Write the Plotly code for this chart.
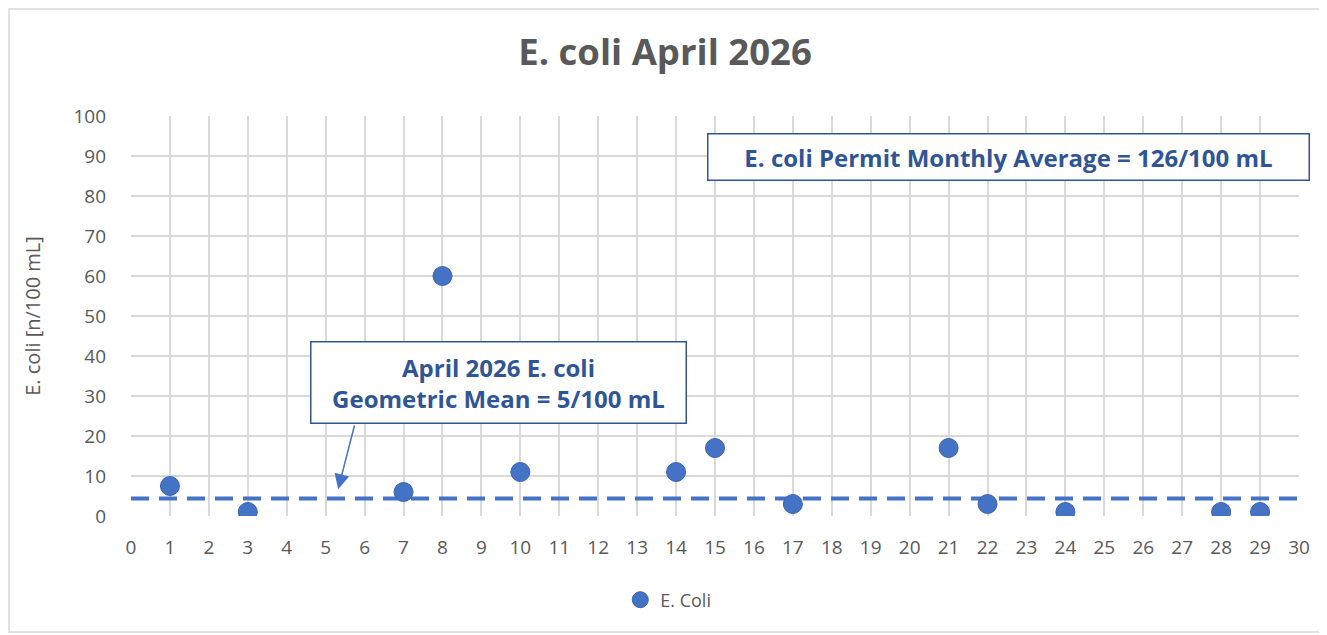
import plotly.graph_objects as go

# April 2026 sample days and E. coli counts [n/100 mL]
days = [1, 3, 7, 8, 10, 14, 15, 17, 21, 22, 24, 28, 29]
ecoli = [7.5, 1, 6, 60, 11, 11, 17, 3, 17, 3, 1, 1, 1]

geo_mean = 4.4
mean_span = [0, 30]

x_ticks = list(range(0, 31))
y_ticks = list(range(0, 101, 10))

blue = "#4472C4"
dark_blue = "#2F5597"
grey_text = "#595959"
grid = "#D9D9D9"
font = "Open Sans"

fig = go.Figure()

# geometric mean reference line
fig.add_trace(go.Scatter(
    x=mean_span, y=[geo_mean, geo_mean], mode="lines",
    line=dict(color=blue, width=4, dash="18px,10px"),
    showlegend=False, hoverinfo="skip"))

fig.add_trace(go.Scatter(
    x=days, y=ecoli, mode="markers", name="E. Coli",
    marker=dict(color=blue, size=19,
                line=dict(color="#3A63AE", width=1))))

# the page body shifts the figure by 8px, margins take that into account
fig.update_layout(
    width=1327, height=635,
    paper_bgcolor="white", plot_bgcolor="white",
    margin=dict(l=123, r=36, t=108, b=127),
    font=dict(family=font, color=grey_text, size=19),
    title=dict(text="<b>E. coli April 2026</b>", x=(665 - 8) / 1327,
               xanchor="center", y=1 - 44 / 635, yanchor="middle",
               font=dict(size=36.5, color=grey_text, family=font)),
    showlegend=True,
    legend=dict(orientation="h", x=0.46, xanchor="center", y=-0.21,
                yanchor="middle", font=dict(size=18, color=grey_text),
                itemwidth=30),
)

fig.update_xaxes(range=[0, 30], tickvals=x_ticks, showgrid=True,
                 gridcolor=grid, gridwidth=1.5, zeroline=False,
                 showline=False, ticks="", ticklabelstandoff=18,
                 tickfont=dict(size=19, color=grey_text))
fig.update_yaxes(range=[0, 100], tickvals=y_ticks, showgrid=True,
                 gridcolor=grid, gridwidth=1.5, zeroline=False,
                 showline=False, ticks="", ticklabelstandoff=24,
                 title=dict(text="E. coli [n/100 mL]", standoff=27,
                            font=dict(size=20, color=grey_text)),
                 tickfont=dict(size=19, color=grey_text))

# box callouts
fig.add_annotation(
    x=9.45, y=33.5, xref="x", yref="y", showarrow=False,
    text="<b>April 2026 E. coli<br>Geometric Mean = 5/100 mL</b>",
    font=dict(size=24, color=dark_blue, family=font),
    bordercolor=dark_blue, borderwidth=1.5, borderpad=8,
    bgcolor="white", width=358, align="center")

fig.add_annotation(
    x=5.32, y=6.7, ax=5.75, ay=23, xref="x", yref="y", axref="x", ayref="y",
    text="", showarrow=True, arrowhead=2, arrowsize=2, arrowwidth=1.5,
    arrowcolor=blue)

fig.add_annotation(
    x=22.55, y=89.75, xref="x", yref="y", showarrow=False,
    text="<b>E. coli Permit Monthly Average = 126/100 mL</b>",
    font=dict(size=24, color=dark_blue, family=font),
    bordercolor=dark_blue, borderwidth=1.5, borderpad=6,
    bgcolor="white", width=588, align="center")

# chart area border
fig.add_shape(type="rect", xref="paper", yref="paper",
              x0=-0.1045, x1=1.0214, y0=-0.29, y1=1.2675,
              line=dict(color=grid, width=1.5), layer="below")

fig.write_html("out.html")
